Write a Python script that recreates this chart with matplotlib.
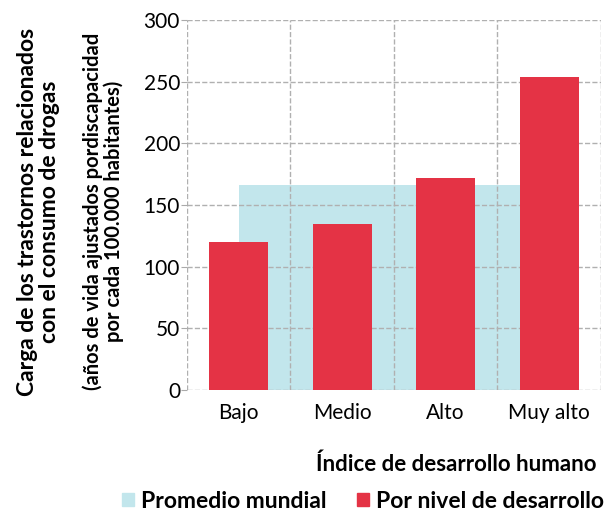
import matplotlib
matplotlib.use('Agg')
import matplotlib.pyplot as plt
from matplotlib.patches import Patch

plt.rcParams['font.family'] = ['Lato', 'DejaVu Sans']

categorias = ['Bajo', 'Medio', 'Alto', 'Muy alto']
por_nivel = [120, 135, 172, 254]
promedio_mundial = 166
yticks = [0, 50, 100, 150, 200, 250, 300]

rojo = '#e43345'
azul = '#c2e6ec'

fig = plt.figure(figsize=(6.05, 5.14), dpi=100)
ax = fig.add_axes([0.309, 0.241, 0.684, 0.72])

x = list(range(len(categorias)))
ax.fill_between([x[0], x[-1]], [promedio_mundial] * 2, 0, color=azul, lw=0, zorder=1)
ax.bar(x, por_nivel, width=0.57, color=rojo, zorder=3)

ax.set_xlim(-0.5, len(categorias) - 0.5)
ax.set_ylim(0, 300)
ax.set_yticks(yticks)
ax.set_xticks(x)
ax.set_xticklabels(categorias, fontsize=15)
ax.tick_params(axis='y', labelsize=15, length=4, color='#aaaaaa', pad=1)
ax.tick_params(axis='x', length=0, pad=9)

ax.set_xticks([i - 0.5 for i in range(len(categorias) + 1)], minor=True)
ax.grid(False)
ax.yaxis.grid(True, linestyle='--', color='#b0b0b0', lw=1, zorder=2)
ax.xaxis.grid(True, which='minor', linestyle='--', color='#b0b0b0', lw=1, zorder=2)
ax.tick_params(axis='x', which='minor', length=0)
ax.set_axisbelow(False)
for s in ax.spines.values():
    s.set_visible(False)

ax.set_xlabel('Índice de desarrollo humano', fontsize=16, fontweight='bold')
ax.xaxis.set_label_coords(0.99, -0.17)
ax.xaxis.label.set_horizontalalignment('right')

fig.text(0.063, 0.588, 'Carga de los trastornos relacionados\ncon el consumo de drogas',
         rotation=90, ha='center', va='center', fontsize=16.5, fontweight='bold', linespacing=1.05)
fig.text(0.171, 0.588, '(años de vida ajustados pordiscapacidad\npor cada 100.000 habitantes)',
         rotation=90, ha='center', va='center', fontsize=14.5, fontweight='bold', linespacing=1.05)

handles = [Patch(color=azul, label='Promedio mundial'), Patch(color=rojo, label='Por nivel de desarrollo')]
fig.legend(handles=handles, loc='center', bbox_to_anchor=(0.6, 0.025), ncol=2, frameon=False,
           prop={'weight': 'bold', 'size': 16.5}, handlelength=0.55, handleheight=0.55,
           handletextpad=0.3, columnspacing=1.3, borderpad=0)

plt.savefig('out.png', dpi=100)
